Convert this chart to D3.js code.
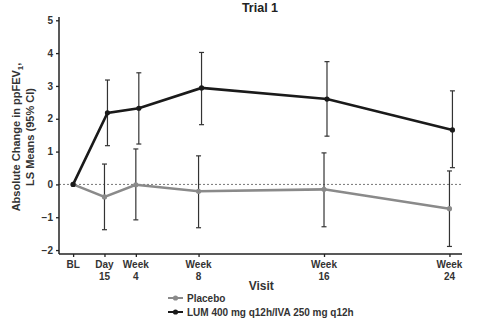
<!DOCTYPE html>
<html>
<head>
<meta charset="utf-8">
<script src="https://cdn.jsdelivr.net/npm/d3@7"></script>
<style>
  body { margin: 0; background: #fff; }
  svg { display: block; font-family: "Liberation Sans", Arial, sans-serif; }
</style>
</head>
<body>
<div id="chart"></div>
<script>
// visits, positioned in weeks
const visitWeeks = [0, 2, 4, 8, 16, 24];
const visitLabels = [["BL"], ["Day", "15"], ["Week", "4"], ["Week", "8"], ["Week", "16"], ["Week", "24"]];

const placeboMean  = [0, -0.38, -0.01, -0.21, -0.15, -0.74];
const placeboLower = [null, -1.38, -1.08, -1.32, -1.29, -1.89];
const placeboUpper = [null, 0.62, 1.08, 0.87, 0.96, 0.41];

const lumMean  = [0, 2.18, 2.32, 2.94, 2.60, 1.66];
const lumLower = [null, 1.18, 1.23, 1.82, 1.47, 0.51];
const lumUpper = [null, 3.18, 3.40, 4.02, 3.74, 2.85];

const yTicks = [-2, -1, 0, 1, 2, 3, 4, 5];

const W = 481, H = 325;
const m = {t: 17, l: 59, b: 71, r: 19};
const w = W - m.l - m.r;
const h = H - m.t - m.b;

const scaleX = d3.scaleLinear()
				.domain([-0.9, 24.8])
				.range([0, w]);

const scaleY = d3.scaleLinear()
				.domain([-2.12, 5.1])
				.range([h, 0]);

const svg = d3.select("#chart")
			.append("svg")
			.attr("width", W)
			.attr("height", H);

svg.append("text")
	.attr("x", 260)
	.attr("y", 12)
	.attr("text-anchor", "middle")
	.style("font-size", "12.5px")
	.style("font-weight", "bold")
	.style("fill", "#222")
	.text("Trial 1");

const plot = svg.append("g")
				.attr("transform", `translate(${m.l},${m.t})`);

// zero reference
plot.append("line")
	.attr("x1", 0).attr("x2", w)
	.attr("y1", scaleY(0)).attr("y2", scaleY(0))
	.style("stroke", "#777")
	.style("stroke-width", 1)
	.style("stroke-dasharray", "2,2");

// axes
const axisY = d3.axisLeft(scaleY)
				.tickValues(yTicks)
				.tickSize(3)
				.tickFormat(d3.format("d"));

const gy = plot.append("g").call(axisY);
gy.select(".domain").attr("d", `M0,${h}V0`);

const axisX = d3.axisBottom(scaleX)
				.tickValues(visitWeeks)
				.tickSize(3)
				.tickFormat("");

const gx = plot.append("g")
			.attr("transform", `translate(0,${h})`)
			.call(axisX);
gx.select(".domain").attr("d", `M0,0H${w}`);

[gx, gy].forEach(g => {
	g.select(".domain").style("stroke", "#222").style("stroke-width", 1.5);
	g.selectAll(".tick line").style("stroke", "#222").style("stroke-width", 1.3);
	g.selectAll("text")
		.style("font-size", "10px")
		.style("font-weight", "bold")
		.style("fill", "#333")
		.style("font-family", "\"Liberation Sans\", Arial, sans-serif");
});
gy.selectAll("text").attr("x", -6);

// two-line x tick labels
visitWeeks.forEach((wk, i) => {
	const t = plot.append("text")
		.attr("x", scaleX(wk))
		.attr("y", h + 14)
		.attr("text-anchor", "middle")
		.style("font-size", "10px")
		.style("font-weight", "bold")
		.style("fill", "#333");
	visitLabels[i].forEach((s, j) => {
		t.append("tspan")
			.attr("x", scaleX(wk))
			.attr("dy", j === 0 ? 0 : 11.5)
			.text(s);
	});
});

svg.append("text")
	.attr("x", m.l + scaleX(12))
	.attr("y", 290)
	.attr("text-anchor", "middle")
	.style("font-size", "12px")
	.style("font-weight", "bold")
	.style("fill", "#333")
	.text("Visit");

// y label
const yl = svg.append("text")
	.attr("transform", "translate(20,137) rotate(-90)")
	.attr("text-anchor", "middle")
	.style("font-size", "11px")
	.style("font-weight", "bold")
	.style("fill", "#333");
yl.append("tspan").attr("x", 0).attr("dy", 0).text("Absolute Change in ppFEV");
yl.append("tspan").attr("dy", 3).style("font-size", "8px").text("1");
yl.append("tspan").attr("dy", -3).text(",");
yl.append("tspan").attr("x", 0).attr("dy", 13.5).text("LS Means (95% CI)");

// series
const series = [
	{name: "Placebo", mean: placeboMean, lower: placeboLower, upper: placeboUpper, color: "#8a8a8a", shift: 0},
	{name: "LUM 400 mg q12h/IVA 250 mg q12h", mean: lumMean, lower: lumLower, upper: lumUpper, color: "#1a1a1a", shift: 0.19}
];

const lineGenerator = d3.line()
						.x(d => scaleX(d.x))
						.y(d => scaleY(d.y));

series.forEach(s => {
	const pts = visitWeeks.map((wk, i) => ({x: wk + (i === 0 ? 0 : s.shift), y: s.mean[i], lo: s.lower[i], hi: s.upper[i]}));
	const g = plot.append("g");
	const bars = pts.filter(d => d.lo !== null);
	g.selectAll(".err")
		.data(bars)
		.join("line")
		.attr("x1", d => scaleX(d.x)).attr("x2", d => scaleX(d.x))
		.attr("y1", d => scaleY(d.lo)).attr("y2", d => scaleY(d.hi))
		.style("stroke", "#333").style("stroke-width", 1.2);
	["lo", "hi"].forEach(k => {
		g.selectAll(".cap-" + k)
			.data(bars)
			.join("line")
			.attr("x1", d => scaleX(d.x) - 2.5).attr("x2", d => scaleX(d.x) + 2.5)
			.attr("y1", d => scaleY(d[k])).attr("y2", d => scaleY(d[k]))
			.style("stroke", "#333").style("stroke-width", 1.2);
	});
	g.append("path")
		.datum(pts)
		.attr("d", lineGenerator)
		.style("fill", "none")
		.style("stroke", s.color)
		.style("stroke-width", 2.6);
	g.selectAll("circle")
		.data(pts)
		.join("circle")
		.attr("cx", d => scaleX(d.x))
		.attr("cy", d => scaleY(d.y))
		.attr("r", 2.6)
		.style("fill", s.color);
});

// legend
const legend = svg.append("g");
series.forEach((s, i) => {
	const y = 298 + i * 14;
	legend.append("line")
		.attr("x1", 168).attr("x2", 183)
		.attr("y1", y).attr("y2", y)
		.style("stroke", s.color).style("stroke-width", 2);
	legend.append("circle")
		.attr("cx", 175.5).attr("cy", y).attr("r", 2.6)
		.style("fill", s.color);
	legend.append("text")
		.attr("x", 187).attr("y", y + 3.5)
		.style("font-size", "10px")
		.style("font-weight", "bold")
		.style("fill", "#333")
		.text(s.name);
});
</script>
</body>
</html>
